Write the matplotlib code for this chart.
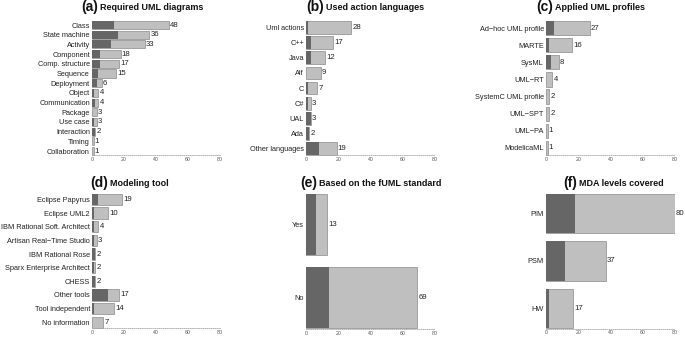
import matplotlib
matplotlib.use("Agg")
import matplotlib.pyplot as plt

plt.rcParams['font.family'] = ['Liberation Sans', 'DejaVu Sans']

# ---------------- data ----------------
a_cats = ["Class", "State machine", "Activity", "Component", "Comp. structure", "Sequence",
          "Deployment", "Object", "Communication", "Package", "Use case", "Interaction",
          "Timing", "Collaboration"]
a_total = [48, 36, 33, 18, 17, 15, 6, 4, 4, 3, 3, 2, 1, 1]
a_dark = [14, 16, 12, 5, 5, 4, 3, 1, 2, 0, 1, 2, 0, 0]

b_cats = ["Uml actions", "C++", "Java", "Alf", "C", "C#", "UAL", "Ada", "Other languages"]
b_total = [28, 17, 12, 9, 7, 3, 3, 2, 19]
b_dark = [1, 3, 3, 0, 1, 1, 3, 2, 8]

c_cats = ["Ad\u2212hoc UML profile", "MARTE", "SysML", "UML\u2212RT", "SystemC UML profile",
          "UML\u2212SPT", "UML\u2212PA", "ModelicaML"]
c_total = [27, 16, 8, 4, 2, 2, 1, 1]
c_dark = [5, 2, 3, 0, 0, 0, 0, 0]

d_cats = ["Eclipse Papyrus", "Eclipse UML2", "IBM Rational Soft. Architect",
          "Artisan Real\u2212Time Studio", "IBM Rational Rose", "Sparx Enterprise Architect",
          "CHESS", "Other tools", "Tool independent", "No information"]
d_total = [19, 10, 4, 3, 2, 2, 2, 17, 14, 7]
d_dark = [4, 1, 1, 1, 2, 1, 2, 10, 1, 0]

e_cats = ["Yes", "No"]
e_total = [13, 69]
e_dark = [6, 14]

f_cats = ["PIM", "PSM", "HW"]
f_total = [80, 37, 17]
f_dark = [18, 12, 2]

x_ticks = [0, 20, 40, 60, 80]

panels = [
    ("(a)", "Required UML diagrams", a_cats, a_total, a_dark),
    ("(b)", "Used action languages", b_cats, b_total, b_dark),
    ("(c)", "Applied UML profiles", c_cats, c_total, c_dark),
    ("(d)", "Modeling tool", d_cats, d_total, d_dark),
    ("(e)", "Based on the fUML standard", e_cats, e_total, e_dark),
    ("(f)", "MDA levels covered", f_cats, f_total, f_dark),
]

# ---------------- layout (pixels) ----------------
W, H = 685, 337
col_x = [(92, 219.5), (306, 435), (546, 675)]
row_y = [(15.6, 160.5), (188.5, 333.3)]
title_pos = [(100, 7), (326, 7), (555, 7), (110, 183), (319, 183), (579, 183)]

DARK = "#666666"
LIGHT = "#bfbfbf"
EDGE = "#8a8a8a"

fig = plt.figure(figsize=(W / 100, H / 100), dpi=100)

for idx, (tag, title, cats, total, dark) in enumerate(panels):
    r, c = divmod(idx, 3)
    x0, x1 = col_x[c]
    yt, yb = row_y[r]
    ax = fig.add_axes([x0 / W, 1 - yb / H, (x1 - x0) / W, (yb - yt) / H])
    n = len(cats)
    pos = [0.7 + 1.2 * i for i in range(n)]

    for s in ("top", "right", "left"):
        ax.spines[s].set_visible(False)
    sp = ax.spines["bottom"]
    sp.set_position(("data", 1.2 * n + 0.02))

    ax.barh(pos, total, height=1.0, color=LIGHT, edgecolor=EDGE, linewidth=0.5)
    ax.barh(pos, dark, height=1.0, color=DARK, edgecolor="none", linewidth=0)
    R = 1.2 * n - 0.2
    ax.set_ylim(1.2 * n + 0.04 * R, 0.2 - 0.04 * R)
    ax.set_xlim(0, 80)
    for p, t in zip(pos, total):
        ax.annotate(str(t), (t, p), xytext=(0.8, 0), textcoords="offset points",
                    ha="left", va="center", fontsize=5.6, color="#222222",
                    annotation_clip=False)
    ax.set_yticks(pos)
    ax.set_yticklabels(cats, fontsize=5.3, color="#222222")
    ax.tick_params(axis="y", length=0, pad=1.5)
    ax.set_xticks(x_ticks)
    ax.set_xticklabels([str(v) for v in x_ticks], fontsize=3.8, color="#555555")
    ax.tick_params(axis="x", length=0, pad=1.2)

    sp.set_bounds(0, 80)
    sp.set_linestyle((0, (1, 1.5)))
    sp.set_color("#aaaaaa")
    sp.set_linewidth(0.6)
    ax.set_facecolor("none")

    tx, ty = title_pos[idx]
    fig.text(tx / W, 1 - ty / H, title, fontsize=6.5, fontweight="bold",
             ha="left", va="center", color="#111111")
    fig.text((tx - 2) / W, 1 - (ty + 0.5) / H, tag, fontsize=10, fontweight="bold",
             ha="right", va="center", color="#111111")

fig.savefig("out.png", dpi=100)
